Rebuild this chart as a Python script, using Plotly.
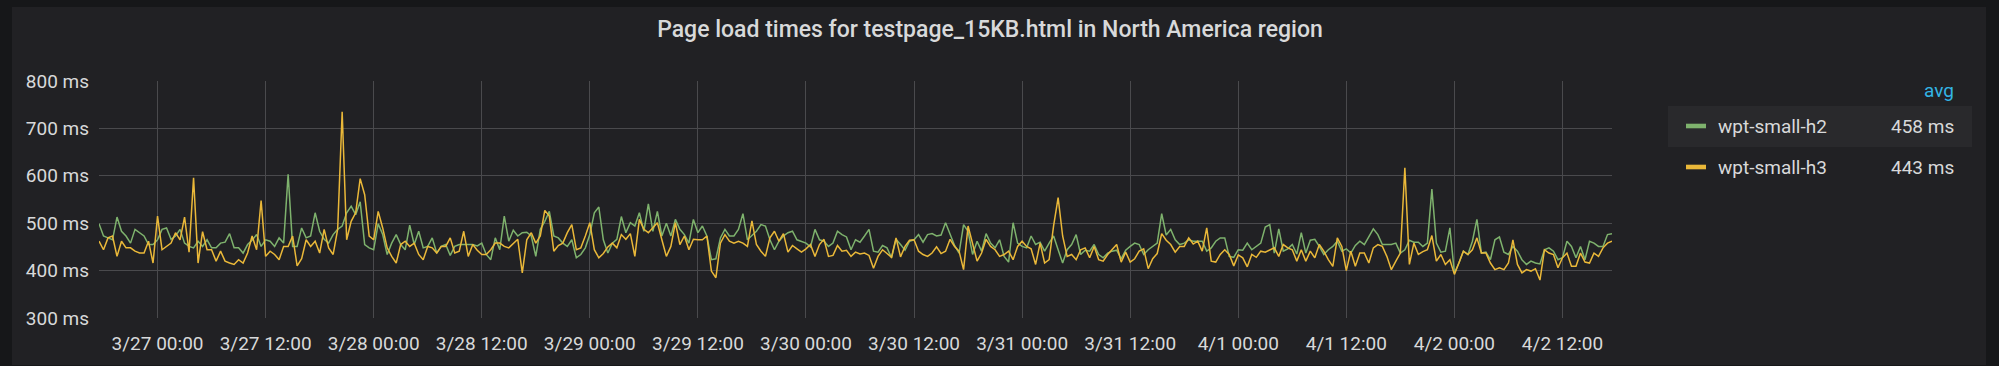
import pandas as pd
import plotly.graph_objects as go

# ---------------- data ----------------
series_names = ["wpt-small-h2", "wpt-small-h3"]
series_avg = ["458 ms", "443 ms"]
series_colors = ["#7eb26d", "#eab839"]

start_time = "2019-03-26 17:30"
step = "30min"

h2_ms = [
    499, 473, 469, 465, 513, 483, 473, 458, 487, 480, 473, 455, 455, 465, 487, 490, 466, 473, 487, 458,
    451, 448, 462, 451, 465, 448, 448, 458, 460, 478, 448, 448, 437, 455, 464, 476, 451, 465, 462, 451,
    469, 458, 603, 451, 451, 490, 469, 473, 522, 483, 466, 458, 476, 487, 494, 522, 536, 518, 545, 455,
    448, 444, 499, 476, 434, 458, 476, 455, 444, 496, 455, 483, 448, 451, 469, 437, 451, 455, 432, 451,
    455, 455, 455, 455, 452, 458, 434, 423, 469, 444, 515, 462, 485, 473, 480, 481, 473, 430, 487, 504,
    525, 473, 469, 458, 451, 465, 427, 434, 448, 476, 522, 534, 465, 437, 458, 466, 514, 480, 501, 494,
    522, 483, 541, 483, 525, 473, 500, 473, 508, 487, 476, 458, 508, 480, 494, 473, 423, 425, 469, 487,
    473, 473, 487, 520, 465, 473, 483, 497, 494, 465, 444, 462, 473, 480, 483, 465, 462, 458, 450, 487,
    465, 462, 451, 458, 483, 476, 471, 444, 465, 460, 473, 487, 441, 439, 453, 448, 427, 466, 455, 443,
    462, 465, 476, 460, 476, 478, 473, 475, 501, 476, 453, 437, 497, 483, 434, 462, 441, 478, 458, 448,
    465, 430, 418, 501, 458, 451, 448, 473, 455, 460, 441, 458, 473, 444, 416, 444, 455, 476, 434, 443,
    441, 455, 434, 427, 437, 441, 443, 425, 443, 451, 458, 455, 434, 444, 451, 458, 520, 475, 487, 465,
    455, 458, 465, 462, 462, 462, 441, 448, 462, 469, 469, 430, 428, 444, 443, 458, 444, 451, 458, 492,
    497, 437, 488, 441, 446, 455, 435, 480, 437, 464, 466, 451, 434, 444, 451, 462, 441, 446, 437, 453,
    462, 455, 473, 488, 476, 455, 455, 455, 458, 437, 444, 464, 460, 460, 451, 458, 572, 458, 439, 441,
    490, 395, 416, 441, 434, 462, 508, 437, 439, 423, 465, 471, 439, 434, 451, 441, 423, 413, 420, 416,
    414, 444, 448, 441, 423, 427, 462, 451, 427, 451, 423, 462, 458, 451, 451, 476, 478,
]

h3_ms = [
    462, 444, 469, 473, 430, 462, 448, 448, 441, 437, 437, 462, 416, 515, 444, 451, 458, 480, 465, 513,
    439, 596, 416, 482, 444, 444, 420, 441, 420, 416, 413, 423, 416, 437, 473, 444, 548, 430, 441, 434,
    423, 451, 451, 473, 410, 425, 465, 451, 462, 437, 487, 448, 434, 487, 735, 465, 504, 522, 594, 560,
    473, 465, 525, 490, 448, 430, 416, 455, 462, 451, 458, 434, 423, 451, 448, 437, 451, 451, 469, 437,
    441, 483, 430, 455, 443, 434, 434, 444, 458, 458, 451, 448, 458, 466, 395, 465, 480, 458, 473, 527,
    515, 441, 453, 458, 480, 497, 444, 448, 473, 501, 444, 427, 436, 450, 458, 448, 476, 466, 478, 430,
    508, 487, 480, 490, 501, 465, 430, 451, 501, 455, 473, 444, 466, 465, 465, 473, 399, 385, 458, 476,
    462, 458, 462, 458, 451, 505, 455, 441, 430, 469, 483, 462, 478, 439, 453, 446, 439, 446, 455, 430,
    455, 466, 430, 432, 453, 441, 443, 430, 439, 435, 437, 432, 405, 430, 444, 436, 428, 469, 429, 451,
    464, 465, 441, 434, 430, 437, 450, 436, 441, 466, 451, 441, 402, 494, 455, 420, 437, 466, 451, 444,
    430, 434, 441, 423, 451, 462, 451, 446, 413, 458, 416, 423, 495, 554, 473, 430, 434, 423, 444, 448,
    427, 451, 423, 420, 434, 444, 455, 418, 439, 418, 425, 441, 446, 404, 425, 436, 478, 464, 455, 439,
    451, 451, 469, 456, 462, 441, 490, 420, 418, 434, 444, 434, 410, 433, 427, 408, 434, 428, 441, 439,
    444, 448, 430, 455, 448, 444, 420, 444, 420, 441, 427, 455, 441, 423, 409, 469, 451, 400, 441, 409,
    437, 437, 416, 448, 455, 451, 430, 402, 420, 437, 617, 413, 458, 434, 440, 444, 474, 420, 434, 413,
    423, 392, 416, 441, 434, 444, 469, 437, 437, 416, 402, 406, 402, 416, 465, 413, 395, 402, 399, 404,
    380, 444, 437, 434, 406, 427, 437, 409, 409, 437, 418, 416, 437, 430, 448, 458, 462,
]

x_tick_times = [
    "2019-03-27 00:00", "2019-03-27 12:00", "2019-03-28 00:00", "2019-03-28 12:00",
    "2019-03-29 00:00", "2019-03-29 12:00", "2019-03-30 00:00", "2019-03-30 12:00",
    "2019-03-31 00:00", "2019-03-31 12:00", "2019-04-01 00:00", "2019-04-01 12:00",
    "2019-04-02 00:00", "2019-04-02 12:00",
]
x_tick_labels = [
    "3/27 00:00", "3/27 12:00", "3/28 00:00", "3/28 12:00", "3/29 00:00", "3/29 12:00",
    "3/30 00:00", "3/30 12:00", "3/31 00:00", "3/31 12:00", "4/1 00:00", "4/1 12:00",
    "4/2 00:00", "4/2 12:00",
]
y_tick_values = [300, 400, 500, 600, 700, 800]
y_tick_labels = ["300 ms", "400 ms", "500 ms", "600 ms", "700 ms", "800 ms"]

title_text = "Page load times for testpage_15KB.html in North America region"

# ---------------- figure ----------------
W, H = 1999, 366
ML, MR, MT, MB = 99, 387, 81, 48
PW, PH = W - ML - MR, H - MT - MB


def fx(px):
    return (px - ML) / PW


def fy(py):
    return (H - MB - py) / PH


times = pd.date_range(start_time, periods=len(h2_ms), freq=step)

TEXT = "#d8d9da"
GRID = "#4a4a4d"
PANEL = "#212124"
PAGE = "#161719"
FONT = "Roboto"

fig = go.Figure()
for name, vals, col in zip(series_names, [h2_ms, h3_ms], series_colors):
    fig.add_trace(go.Scatter(
        x=times, y=vals, mode="lines", name=name,
        line=dict(color=col, width=1.5), showlegend=False,
    ))

shapes = [
    dict(type="rect", xref="paper", yref="paper", x0=fx(12), x1=fx(1986), y0=fy(365), y1=fy(7),
         fillcolor=PANEL, line=dict(width=0), layer="below"),
    dict(type="rect", xref="paper", yref="paper", x0=fx(1668), x1=fx(1972), y0=fy(147), y1=fy(106),
         fillcolor="#29292c", line=dict(width=0), layer="below"),
]
legend_rows_y = [126, 167]
for ry, col in zip(legend_rows_y, series_colors):
    shapes.append(dict(type="rect", xref="paper", yref="paper", x0=fx(1686), x1=fx(1706),
                       y0=fy(ry + 2.3), y1=fy(ry - 2.3), fillcolor=col, line=dict(width=0)))

annotations = [
    dict(text="avg", xref="paper", yref="paper", x=fx(1956), y=fy(90), xanchor="right",
         yanchor="middle", showarrow=False, font=dict(family=FONT, size=19, color="#33b5e5")),
]
for ry, name, avg in zip(legend_rows_y, series_names, series_avg):
    annotations.append(dict(text=name, xref="paper", yref="paper", x=fx(1716), y=fy(ry),
                            xanchor="left", yanchor="middle", showarrow=False,
                            font=dict(family=FONT, size=19, color=TEXT)))
    annotations.append(dict(text=avg, xref="paper", yref="paper", x=fx(1956), y=fy(ry),
                            xanchor="right", yanchor="middle", showarrow=False,
                            font=dict(family=FONT, size=19, color=TEXT)))

fig.update_layout(
    width=W, height=H,
    margin=dict(l=ML, r=MR, t=MT, b=MB, pad=0),
    paper_bgcolor=PAGE,
    plot_bgcolor=PANEL,
    title=dict(text=title_text, x=990 / W, xref="container", xanchor="center",
               y=1 - 29 / H, yref="container", yanchor="middle",
               font=dict(family=FONT, size=23, color=TEXT, weight=500)),
    shapes=shapes,
    annotations=annotations,
    hovermode=False,
    xaxis=dict(
        range=[times[0], times[-1]],
        tickmode="array", tickvals=pd.to_datetime(x_tick_times), ticktext=x_tick_labels,
        showgrid=True, gridcolor=GRID, gridwidth=1, zeroline=False, showline=False,
        ticks="", ticklabelstandoff=12,
        tickfont=dict(family=FONT, size=19, color=TEXT),
    ),
    yaxis=dict(
        range=[300, 800], tickmode="array", tickvals=y_tick_values, ticktext=y_tick_labels,
        showgrid=True, gridcolor=GRID, gridwidth=1, zeroline=False, showline=False,
        ticks="", ticklabelstandoff=9,
        tickfont=dict(family=FONT, size=19, color=TEXT),
    ),
)

fig.write_html(
    "out.html",
    config={"displayModeBar": False},
    post_script="document.body.style.margin='0';document.body.style.overflow='hidden';",
)
